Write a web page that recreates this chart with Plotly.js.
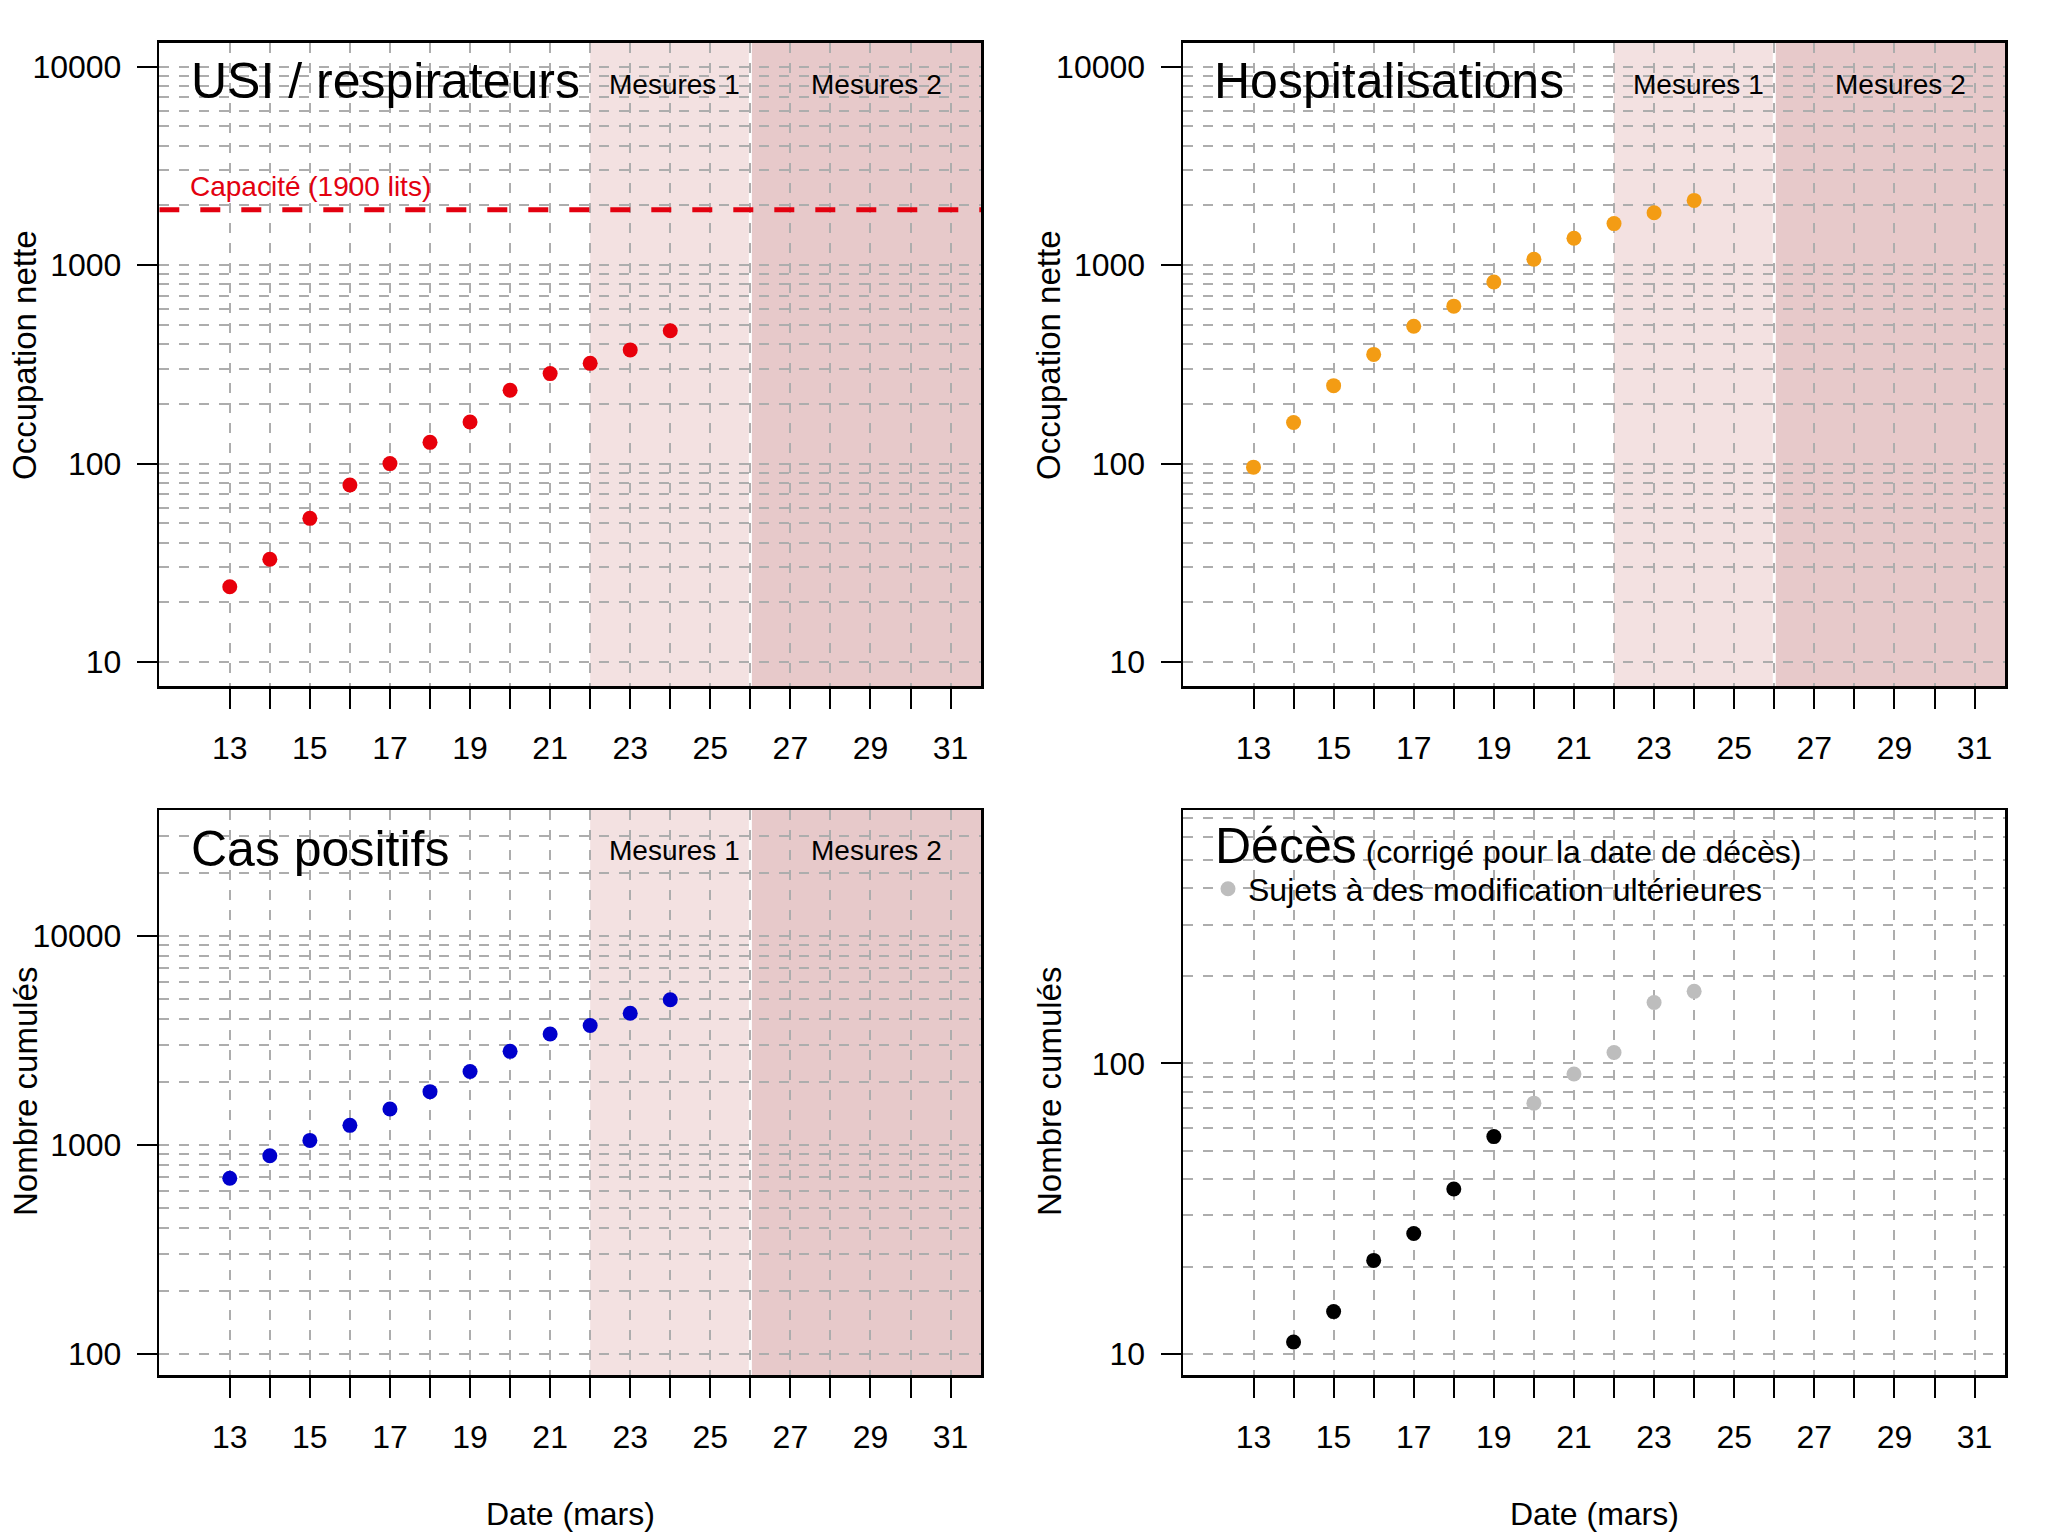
<!DOCTYPE html>
<html>
<head>
<meta charset="utf-8">
<script src="https://cdn.plot.ly/plotly-3.0.1.min.js"></script>
<style>html,body{margin:0;padding:0;background:#fff;}#chart{width:2048px;height:1536px;}</style>
</head>
<body>
<div id="chart"></div>
<script>
// ---------- data ----------
const days = [13, 14, 15, 16, 17, 18, 19, 20, 21, 22, 23, 24];
const icu = [24, 33, 53, 78, 100, 128, 162, 234, 284, 320, 374, 467];
const hosp = [96, 161, 247, 355, 492, 621, 822, 1070, 1364, 1618, 1833, 2117];
const cases = [692, 886, 1050, 1239, 1484, 1795, 2241, 2797, 3387, 3716, 4250, 4937];
const deathDays = [14, 15, 16, 17, 18, 19, 20, 21, 22, 23, 24];
const deaths = [11, 14, 21, 26, 37, 56, 73, 92, 109, 162, 177];
const provisionalFrom = 20;
const capacity = 1900;
const mesures1 = [22, 26];
const mesures2Start = 26;
const xTickVals = [13, 14, 15, 16, 17, 18, 19, 20, 21, 22, 23, 24, 25, 26, 27, 28, 29, 30, 31];
const xTickText = ['13', '', '15', '', '17', '', '19', '', '21', '', '23', '', '25', '', '27', '', '29', '', '31'];
const panelTitles = ['USI / respirateurs', 'Hospitalisations', 'Cas positifs', 'Décès'];
const deathsSubtitle = '(corrigé pour la date de décès)';
const provisionalLabel = 'Sujets à des modification ultérieures';
const yTitles = ['Occupation nette', 'Occupation nette', 'Nombre cumulés', 'Nombre cumulés'];
const xTitle = 'Date (mars)';

// ---------- styling ----------
const FONT = '"Liberation Sans", Arial, Helvetica, sans-serif';
const GRID = '#adadad';
const xRange = [11.24, 31.76];
const yRanges = [[0.88, 4.12], [0.88, 4.12], [1.9, 4.6], [0.928, 2.872]];
const yMajor = [[10, 100, 1000, 10000], [10, 100, 1000, 10000], [100, 1000, 10000], [10, 100]];
const gridFrom = [10, 10, 100, 10];
const xDom = [[159.3 / 2048, 981 / 2048], [1183 / 2048, 2005 / 2048]];
const yDomTop = [1 - 686 / 1536, 1 - 42.7 / 1536];
const yDomBot = [1 - 1375 / 1536, 1 - 810 / 1536];

function minorGrid(i) {
  const out = [];
  const top = Math.pow(10, yRanges[i][1]);
  for (let e = 0; e <= 5; e++) {
    for (let m = 2; m <= 9; m++) {
      const v = m * Math.pow(10, e);
      if (v >= gridFrom[i] && v <= top) out.push(v);
    }
  }
  return out;
}

function xAxis(dom, anchor) {
  return {
    domain: dom, anchor: anchor, range: xRange, type: 'linear',
    tickmode: 'array', tickvals: xTickVals, ticktext: xTickText,
    ticks: 'outside', ticklen: 20, tickwidth: 2, tickcolor: '#000',
    ticklabelstandoff: 12,
    showline: true, linecolor: '#000', linewidth: 2.5, mirror: true,
    showgrid: true, gridcolor: GRID, gridwidth: 2, griddash: '10px,10px',
    zeroline: false, tickfont: {family: FONT, size: 32, color: '#000'}
  };
}
function yAxis(i, dom, anchor) {
  return {
    domain: dom, anchor: anchor, type: 'log', range: yRanges[i],
    tickmode: 'array', tickvals: yMajor[i], ticktext: yMajor[i].map(String),
    ticks: 'outside', ticklen: 20, tickwidth: 2, tickcolor: '#000',
    ticklabelstandoff: 9,
    showline: true, linecolor: '#000', linewidth: 2.5, mirror: true,
    showgrid: true, gridcolor: GRID, gridwidth: 2, griddash: '10px,10px',
    minor: {tickmode: 'array', tickvals: minorGrid(i), ticks: '', showgrid: true,
            gridcolor: GRID, gridwidth: 2, griddash: '10px,10px'},
    zeroline: false, tickfont: {family: FONT, size: 32, color: '#000'}
  };
}

function pts(x, y, color, xa, ya, name, legend) {
  return {type: 'scatter', mode: 'markers', x: x, y: y, xaxis: xa, yaxis: ya, name: name,
          showlegend: !!legend, cliponaxis: true,
          marker: {color: color, size: 15, line: {width: 0}}, hoverinfo: 'x+y'};
}

const dBlackX = [], dBlackY = [], dGrayX = [], dGrayY = [];
deathDays.forEach((d, k) => {
  if (d < provisionalFrom) { dBlackX.push(d); dBlackY.push(deaths[k]); }
  else { dGrayX.push(d); dGrayY.push(deaths[k]); }
});

const traces = [
  {type: 'scatter', mode: 'lines', x: xRange, y: [capacity, capacity], xaxis: 'x', yaxis: 'y',
   showlegend: false, hoverinfo: 'skip', line: {color: '#e3000f', width: 5, dash: '20px,21px'}},
  pts(days, icu, '#e8000b', 'x', 'y', 'USI'),
  pts(days, hosp, '#f39c14', 'x2', 'y2', 'Hospitalisations'),
  pts(days, cases, '#0000cc', 'x3', 'y3', 'Cas positifs'),
  pts(dBlackX, dBlackY, '#000000', 'x4', 'y4', 'Décès'),
  pts(dGrayX, dGrayY, '#bdbdbd', 'x4', 'y4', provisionalLabel, true)
];

const shapes = [];
['x', 'x2', 'x3'].forEach((xr, k) => {
  const yr = ['y', 'y2', 'y3'][k];
  shapes.push({type: 'rect', layer: 'below', xref: xr, yref: yr + ' domain', x0: mesures1[0], x1: mesures1[1], y0: 0, y1: 1,
               fillcolor: '#f3e1e1', line: {width: 0}});
  shapes.push({type: 'rect', layer: 'below', xref: xr, yref: yr + ' domain', x0: mesures2Start, x1: xRange[1], y0: 0, y1: 1,
               fillcolor: '#e7c9ca', line: {width: 0}});
  shapes.push({type: 'line', layer: 'below', xref: xr, yref: yr + ' domain', x0: mesures2Start, x1: mesures2Start, y0: 0, y1: 1,
               line: {color: '#ffffff', width: 3}});
});

function ann(text, x, y, size, opts) {
  return Object.assign({text: text, x: x, y: y, xref: 'paper', yref: 'paper', showarrow: false,
    xanchor: 'left', yanchor: 'middle', font: {family: FONT, size: size, color: '#000'}}, opts || {});
}

const annotations = [
  ann(panelTitles[0], 189 / 2048, 1 - 81 / 1536, 50),
  ann(panelTitles[1], 1212 / 2048, 1 - 81 / 1536, 50),
  ann(panelTitles[2], 189 / 2048, 1 - 849 / 1536, 50),
  ann('<span style="font-size:50px">' + panelTitles[3] + '</span> ' + deathsSubtitle, 1213 / 2048, 1 - 846 / 1536, 32),
  ann('Capacité (1900 lits)', 188 / 2048, 1 - 187 / 1536, 28, {font: {family: FONT, size: 28, color: '#e3000f'}}),
  ann(xTitle, (159.3 + 981) / 2 / 2048, 1 - 1514 / 1536, 32, {xanchor: 'center'}),
  ann(xTitle, (1183 + 2005) / 2 / 2048, 1 - 1514 / 1536, 32, {xanchor: 'center'}),
  ann(yTitles[0], 25 / 2048, 1 - 355 / 1536, 33, {xanchor: 'center', textangle: -90}),
  ann(yTitles[1], 1049 / 2048, 1 - 355 / 1536, 33, {xanchor: 'center', textangle: -90}),
  ann(yTitles[2], 25 / 2048, 1 - 1092 / 1536, 33, {xanchor: 'center', textangle: -90}),
  ann(yTitles[3], 1049 / 2048, 1 - 1092 / 1536, 33, {xanchor: 'center', textangle: -90})
];
[['x', 'y'], ['x2', 'y2'], ['x3', 'y3']].forEach(([xr, yr], k) => {
  const yy = k < 2 ? 1 - 84 / 1536 : 1 - 850 / 1536;
  annotations.push(ann('Mesures 1', 24.1, yy, 28, {xref: xr, xanchor: 'center'}));
  annotations.push(ann('Mesures 2', 29.15, yy, 28, {xref: xr, xanchor: 'center'}));
});

const layout = {
  width: 2048, height: 1536, margin: {l: 0, r: 0, t: 0, b: 0},
  paper_bgcolor: '#ffffff', plot_bgcolor: '#ffffff',
  font: {family: FONT, size: 32, color: '#000'},
  xaxis: xAxis(xDom[0], 'y'), yaxis: yAxis(0, yDomTop, 'x'),
  xaxis2: xAxis(xDom[1], 'y2'), yaxis2: yAxis(1, yDomTop, 'x2'),
  xaxis3: xAxis(xDom[0], 'y3'), yaxis3: yAxis(2, yDomBot, 'x3'),
  xaxis4: xAxis(xDom[1], 'y4'), yaxis4: yAxis(3, yDomBot, 'x4'),
  shapes: shapes, annotations: annotations,
  showlegend: true,
  legend: {x: 1208 / 2048, y: 1 - 889 / 1536, xanchor: 'left', yanchor: 'middle',
           bgcolor: 'rgba(0,0,0,0)', borderwidth: 0, itemwidth: 30,
           font: {family: FONT, size: 32, color: '#000'}}
};

Plotly.newPlot('chart', traces, layout, {staticPlot: true});
</script>
</body>
</html>
